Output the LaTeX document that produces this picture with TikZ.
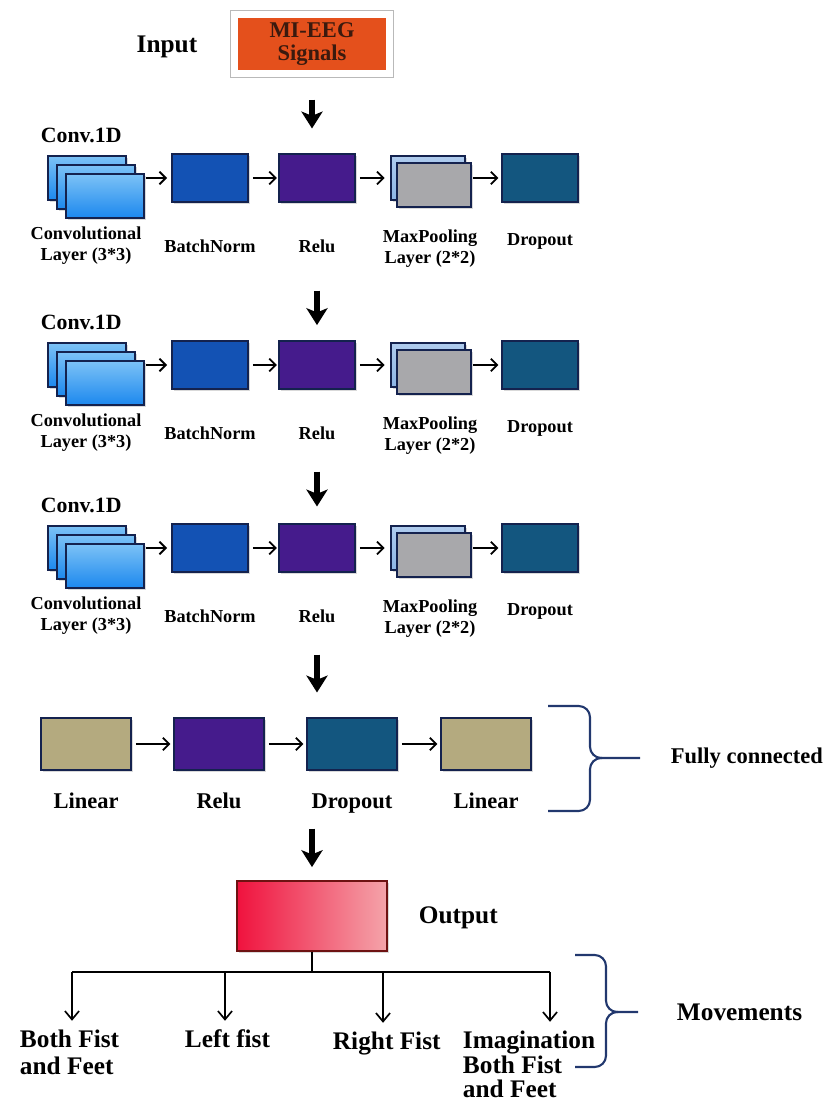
\documentclass[tikz,border=0pt]{standalone}
\usepackage{fontspec}
\setmainfont{Liberation Serif}
\usetikzlibrary{arrows.meta,shadows,positioning}

\definecolor{eegorange}{HTML}{E4501C}
\definecolor{eegtext}{HTML}{3B1A0E}
\definecolor{edgenavy}{HTML}{14224E}
\definecolor{convtop}{HTML}{7CC2F6}
\definecolor{convbot}{HTML}{1C88EE}
\definecolor{bnblue}{HTML}{1352B4}
\definecolor{reluviolet}{HTML}{451B8C}
\definecolor{poolback}{HTML}{8DB6E6}
\definecolor{poolgray}{HTML}{A8A8AB}
\definecolor{dropteal}{HTML}{13567F}
\definecolor{linkhaki}{HTML}{B4AA7F}
\definecolor{outred}{HTML}{F0123E}
\definecolor{outpink}{HTML}{F4A4AA}
\definecolor{outedge}{HTML}{6E1212}
\definecolor{bracenavy}{HTML}{22386E}

\tikzset{
  layer/.style={draw=edgenavy, line width=1pt, inner sep=0pt,
    drop shadow={opacity=0.3, shadow xshift=1.5pt, shadow yshift=-1.5pt}},
  blockbox/.style={layer, minimum width=1.9cm, minimum height=1.2cm},
  convsheet/.style={layer, minimum width=1.95cm, minimum height=1.1cm,
    top color=convtop, bottom color=convbot},
  poolsheet/.style={layer, minimum width=1.85cm, minimum height=1.1cm},
  fcbox/.style={layer, minimum width=2.25cm, minimum height=1.3cm},
  flow/.style={-{Straight Barb[length=4.5pt,width=9pt]}, line width=1.3pt},
  down/.style={-{Stealth[length=12pt,width=15pt,inset=3pt]}, line width=3.6pt},
  pick/.style={-{Straight Barb[length=6pt,width=10pt]}, line width=1.2pt},
  brace/.style={draw=bracenavy, line width=1.5pt, rounded corners=8pt},
  smalltxt/.style={font=\fontsize{13}{15}\selectfont\bfseries, align=center},
  midtxt/.style={font=\fontsize{16}{18}\selectfont\bfseries, align=center},
  bigtxt/.style={font=\fontsize{18}{19}\selectfont\bfseries, align=left},
}

\begin{document}
\begin{tikzpicture}[x=0.025cm, y=-0.025cm]
\useasboundingbox (0,0) rectangle (824,1102);

% input
\node[bigtxt] (inlbl) at (167,47) {Input};
\node[draw=white, line width=3.5pt, fill=eegorange, minimum width=3.8cm, minimum height=1.42cm,
  text=eegtext, font=\fontsize{16}{17}\selectfont\bfseries, align=center,
  drop shadow={opacity=0.4, shadow xshift=1.5pt, shadow yshift=-2pt}] (eeg) at (312,44) {MI-EEG\\Signals};
\draw[gray!55, line width=0.6pt] ([shift={(-1.9pt,1.9pt)}]eeg.north west) rectangle ([shift={(1.9pt,-1.9pt)}]eeg.south east);

% three conv blocks
\foreach \r/\y in {1/178,2/365,3/548}{
  \node[smalltxt, font=\fontsize{15.5}{17}\selectfont\bfseries, anchor=west] (cv\r) at (36,\y-43) {Conv.1D};
  \node[convsheet] (cb\r) at (87,\y) {};
  \node[convsheet] (cm\r) at (96,\y+9) {};
  \node[convsheet] (cf\r) at (105,\y+18) {};
  \node[blockbox, fill=bnblue] (bn\r) at (210,\y) {};
  \node[blockbox, fill=reluviolet] (relu\r) at (317,\y) {};
  \node[poolsheet, top color=poolback!70!white, bottom color=poolback] (pb\r) at (428,\y) {};
  \node[poolsheet, fill=poolgray] (pf\r) at (434,\y+7) {};
  \node[blockbox, fill=dropteal] (drop\r) at (540,\y) {};

  \node[smalltxt] (cvl\r) at (86,\y+68) {Convolutional\\Layer (3*3)};
  \node[smalltxt] (bnl\r) at (210,\y+68) {BatchNorm};
  \node[smalltxt] (relul\r) at (317,\y+68) {Relu};
  \node[smalltxt] (pooll\r) at (430,\y+71) {MaxPooling\\Layer (2*2)};
  \node[smalltxt] (dropl\r) at (540,\y+63) {Dropout};

  \draw[flow, shorten <=1pt, shorten >=3pt] (cf\r.east |- bn\r.west) -- (bn\r.west);
  \draw[flow, shorten <=3pt, shorten >=1pt] (bn\r) -- (relu\r);
  \draw[flow, shorten <=3pt, shorten >=4pt] (relu\r) -- (pb\r);
  \draw[flow, shorten <=1pt, shorten >=2pt] (pf\r.east |- drop\r.west) -- (drop\r.west);
}

% fully connected
\node[fcbox, fill=linkhaki] (fclin1) at (86,744) {};
\node[fcbox, fill=reluviolet] (fcrelu) at (219,744) {};
\node[fcbox, fill=dropteal] (fcdrop) at (352,744) {};
\node[fcbox, fill=linkhaki] (fclin2) at (486,744) {};
\node[midtxt, anchor=base] (fcl1) at (86,808) {Linear};
\node[midtxt, anchor=base] (fcl2) at (219,808) {Relu};
\node[midtxt, anchor=base] (fcl3) at (352,808) {Dropout};
\node[midtxt, anchor=base] (fcl4) at (486,808) {Linear};
\draw[flow, shorten <=3pt, shorten >=2pt] (fclin1) -- (fcrelu);
\draw[flow, shorten <=3pt, shorten >=2pt] (fcrelu) -- (fcdrop);
\draw[flow, shorten <=3pt, shorten >=2pt] (fcdrop) -- (fclin2);

\draw[brace] (548,706) -- (590,706) -- (590,758) -- (640,758);
\draw[brace] (548,811) -- (590,811) -- (590,758) -- (602,758);
\node[midtxt, anchor=west] (fclbl) at (666,758) {Fully connected};

% output
\node[layer, draw=outedge, minimum width=3.75cm, minimum height=1.75cm,
  left color=outred, right color=outpink] (out) at (312,916) {};
\node[bigtxt, anchor=west] (outlbl) at (414,918) {Output};

% down arrows
\draw[down, shorten <=0.62cm, shorten >=0.62cm] (eeg.south) -- (eeg.south |- relu1.north);
\draw[down, shorten <=2.2cm, shorten >=0.38cm] (relu1.south) -- (relu2.north);
\draw[down, shorten <=2.05cm, shorten >=0.42cm] (relu2.south) -- (relu3.north);
\draw[down, shorten <=2.05cm, shorten >=0.62cm] (relu3.south) -- (relu3.south |- fcdrop.north);
\draw[down, shorten <=1.45cm, shorten >=0.33cm] (out.north |- fcdrop.south) -- (out.north);

% movements
\node[bigtxt, anchor=north west] (mv1) at (15,1025) {Both Fist\\and Feet};
\node[bigtxt, anchor=north west] (mv2) at (180,1025) {Left fist};
\node[bigtxt, anchor=north west] (mv3) at (328,1027) {Right Fist};
\node[bigtxt, anchor=north west, font=\fontsize{18}{17.5}\selectfont\bfseries] (mv4) at (458,1026) {Imagination\\Both Fist\\and Feet};

\coordinate (t1) at (72,972);
\coordinate (t2) at (225,972);
\coordinate (t3) at (383,972);
\coordinate (t4) at (550,972);
\draw[line width=1.2pt] (out.south) -- (out.south |- t1);
\draw[line width=1.2pt] (t1) -- (t4);
\foreach \i in {1,...,4}
  \draw[pick, shorten >=3pt] (t\i) -- (t\i |- mv\i.north);

\draw[brace] (575,955) -- (606,955) -- (606,1012) -- (638,1012);
\draw[brace] (575,1067) -- (606,1067) -- (606,1012) -- (618,1012);
\node[bigtxt, anchor=west] (mvlbl) at (672,1012) {Movements};
\end{tikzpicture}
\end{document}
